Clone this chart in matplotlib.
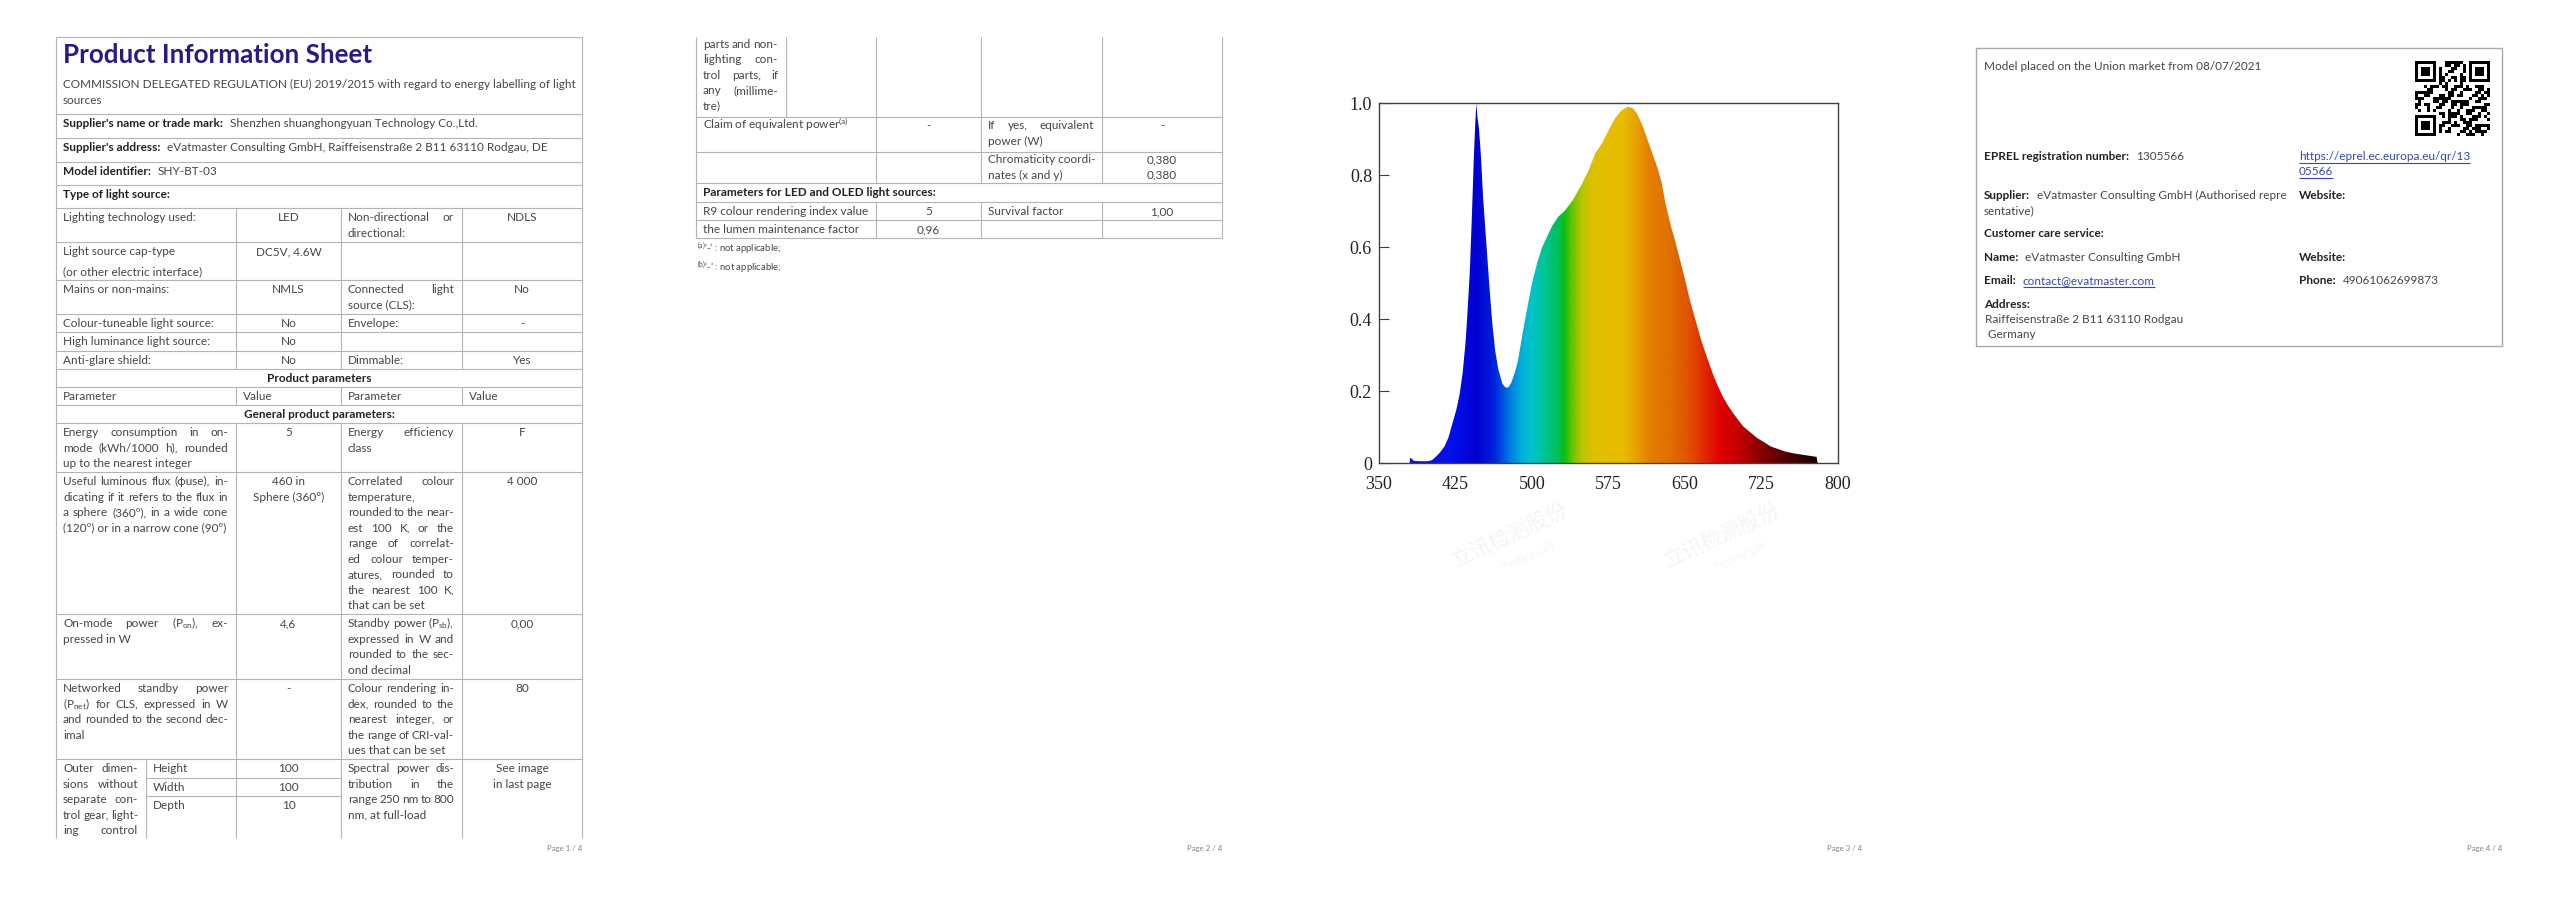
import matplotlib
matplotlib.use("Agg")
import matplotlib.pyplot as plt
import numpy as np
from matplotlib.font_manager import FontProperties
from matplotlib.colors import LinearSegmentedColormap, Normalize

# ---- spectrum (relative spectral power vs wavelength, nm) ----
wl = [380, 380.5, 382, 384, 390, 398, 402, 406, 410, 414, 418, 422, 426, 429, 432,
      435, 437, 439, 441, 443, 444.5, 445.5, 446.5, 448, 450, 452, 455, 458, 461,
      464, 467, 471, 474, 477, 480, 483, 486, 489, 492, 496, 500, 505, 510, 515,
      520, 526, 532, 540, 548, 555, 562, 569, 576, 582, 588, 594, 599, 603, 608,
      613, 618, 623, 627, 631, 636, 640, 645, 650, 655, 660, 666, 672, 677, 682,
      687, 692, 697, 702, 707, 714, 721, 728, 734, 741, 748, 756, 765, 772, 779, 780]
rel = [0.0, 0.015, 0.012, 0.006, 0.005, 0.005, 0.008, 0.018, 0.03, 0.045, 0.07, 0.11,
       0.15, 0.19, 0.25, 0.34, 0.43, 0.53, 0.68, 0.85, 0.95, 1.0, 0.96, 0.93, 0.85,
       0.74, 0.62, 0.50, 0.39, 0.31, 0.26, 0.22, 0.21, 0.21, 0.225, 0.25, 0.28, 0.33,
       0.38, 0.44, 0.50, 0.555, 0.60, 0.63, 0.66, 0.685, 0.70, 0.73, 0.77, 0.81, 0.86,
       0.89, 0.93, 0.96, 0.98, 0.99, 0.985, 0.97, 0.94, 0.90, 0.86, 0.82, 0.78, 0.72,
       0.66, 0.62, 0.565, 0.51, 0.45, 0.40, 0.34, 0.29, 0.25, 0.215, 0.185, 0.16,
       0.139, 0.12, 0.102, 0.085, 0.069, 0.057, 0.046, 0.039, 0.032, 0.027, 0.023,
       0.02, 0.017, 0.0]
x_ticks = [350, 425, 500, 575, 650, 725, 800]
y_ticks = [0, 0.2, 0.4, 0.6, 0.8, 1.0]
y_labels = ["0", "0.2", "0.4", "0.6", "0.8", "1.0"]

# colour of the light at each wavelength
rainbow = [(350, "#000080"), (380, "#1a10c0"), (420, "#0010ee"), (445, "#0000d0"),
           (462, "#0020dc"), (472, "#0058e0"), (482, "#0090e0"), (492, "#00b6d8"),
           (500, "#00c4c8"), (510, "#00c49c"), (520, "#00c270"), (528, "#00c040"),
           (532, "#10c010"), (540, "#70c400"), (550, "#c0c400"), (560, "#e0c000"),
           (590, "#e8bb00"), (603, "#e8a000"), (615, "#e48000"), (635, "#e07000"),
           (655, "#e05000"), (670, "#e02800"), (685, "#e00000"), (705, "#c00000"),
           (725, "#880000"), (750, "#500000"), (775, "#200000"), (800, "#100000")]

W, H = 2560, 905
FAM = ["Lato", "DejaVu Sans"]
plt.rcParams["font.family"] = FAM
plt.rcParams["mathtext.fontset"] = "custom"
plt.rcParams["mathtext.rm"] = "Lato"
plt.rcParams["mathtext.bf"] = "Lato:bold"
plt.rcParams["mathtext.it"] = "Lato:italic"

TXT = "#454545"
LAB = "#222222"
GRID = "#b4b4b4"
LINK = "#3548b0"
LS = 15.5

fig = plt.figure(figsize=(W / 100, H / 100), dpi=100)
fig.patch.set_facecolor("white")
ax = fig.add_axes([0, 0, 1, 1])
ax.set_xlim(0, W)
ax.set_ylim(H, 0)
ax.axis("off")
R = fig.canvas.get_renderer()


def width(s, size, bold=False):
    fp = FontProperties(family=FAM, size=size, weight="bold" if bold else "normal")
    return R.get_text_width_height_descent(s, fp, ismath=("$" in s))[0]


BS = 10 * 151 / width("Colour-tuneable light source:", 10)
TS = 20 * 308 / width("Product Information Sheet", 20, True)
FS = 10 * 35 / width("Page 1 / 4", 10)


def put(x, y, s, bold=False, size=None, color=None, ha="left"):
    size = size or BS
    if color is None:
        color = LAB if bold else TXT
    ax.text(x, y + 0.36 * size * 100 / 72, s, fontsize=size, color=color, ha=ha,
            va="baseline", fontweight="bold" if bold else "normal")


def jline(x0, x1, y, s, bold=False):
    words = s.split(" ")
    if len(words) == 1:
        put(x0, y, s, bold)
        return
    ws = [width(w, BS, bold) for w in words]
    gap = (x1 - x0 - sum(ws)) / (len(words) - 1)
    x = x0
    for w, wv in zip(words, ws):
        put(x, y, w, bold)
        x += wv + gap


def cell(x0, x1, y, lines, mode="j"):
    for i, ln in enumerate(lines):
        yy = y + i * LS
        if mode == "c":
            put((x0 + x1) / 2, yy, ln, ha="center")
        elif (mode == "j" and i < len(lines) - 1) or mode == "J":
            jline(x0 + 7, x1 - 8, yy, ln)
        else:
            put(x0 + 7, yy, ln)


def hl(y, x0, x1, c=GRID):
    ax.plot([x0, x1], [y, y], color=c, lw=0.8, solid_capstyle="butt")


def vl(x, y0, y1, c=GRID):
    ax.plot([x, x], [y0, y1], color=c, lw=0.8, solid_capstyle="butt")


def labval(x, y, lab, val, link=False):
    put(x, y, lab, bold=True)
    xv = x + width(lab, BS, True) + 7
    if link:
        put(xv, y, val, color=LINK)
        hl(y + 7, xv, xv + width(val, BS), c=LINK)
    else:
        put(xv, y, val)


# ================= page 1 =================
L, C1, C2, C3, RT = 56, 236, 341, 462, 582
SUB = 146
rows1 = [37, 114, 138, 162, 185, 208, 242, 280, 314, 332, 351, 369, 387, 405,
         423, 472, 614, 679, 759, 838]
for r in rows1[:-1]:
    hl(r, L, RT)
vl(L, 37, 838)
vl(RT, 37, 838)
for c in (C1, C2, C3):
    vl(c, 208, 369)
    vl(c, 387, 405)
    vl(c, 423, 838)
vl(SUB, 759, 838)
hl(778, SUB, C2)
hl(796, SUB, C2)

put(63, 54, "Product Information Sheet", bold=True, size=TS, color="#2b1a86")
put(63, 84, "COMMISSION DELEGATED REGULATION (EU) 2019/2015 with regard to energy labelling of light")
put(63, 99.7, "sources")
labval(63, 123, "Supplier's name or trade mark:", "Shenzhen shuanghongyuan Technology Co.,Ltd.")
labval(63, 147, "Supplier's address:", "eVatmaster Consulting GmbH, Raiffeisenstraße 2 B11 63110 Rodgau, DE")
labval(63, 171, "Model identifier:", "SHY-BT-03")
put(63, 194, "Type of light source:", bold=True)

grid_rows = [
    (208, ["Lighting technology used:"], ["LED"], ["Non-directional or", "directional:"], ["NDLS"]),
    (242, [], ["DC5V, 4.6W"], [], []),
    (280, ["Mains or non-mains:"], ["NMLS"], ["Connected light", "source (CLS):"], ["No"]),
    (314, ["Colour-tuneable light source:"], ["No"], ["Envelope:"], ["-"]),
    (332, ["High luminance light source:"], ["No"], [], []),
    (351, ["Anti-glare shield:"], ["No"], ["Dimmable:"], ["Yes"]),
    (423, ["Energy consumption in on-", "mode (kWh/1000 h), rounded", "up to the nearest integer"],
     ["5"], ["Energy efficiency", "class"], ["F"]),
    (472, ["Useful luminous flux (ϕuse), in-", "dicating if it refers to the flux in",
           "a sphere (360º), in a wide cone", "(120º) or in a narrow cone (90º)"],
     ["460 in", "Sphere (360°)"],
     ["Correlated colour", "temperature,", "rounded to the near-", "est 100 K, or the",
      "range of correlat-", "ed colour temper-", "atures, rounded to", "the nearest 100 K,",
      "that can be set"], ["4 000"]),
    (614, ["On-mode power (P$_{\\mathrm{on}}$), ex-", "pressed in W"], ["4,6"],
     ["Standby power (P$_{\\mathrm{sb}}$),", "expressed in W and", "rounded to the sec-",
      "ond decimal"], ["0,00"]),
    (679, ["Networked standby power", "(P$_{\\mathrm{net}}$) for CLS, expressed in W",
           "and rounded to the second dec-", "imal"], ["-"],
     ["Colour rendering in-", "dex, rounded to the", "nearest integer, or",
      "the range of CRI-val-", "ues that can be set"], ["80"]),
]
for top, a, b, c, d in grid_rows:
    y = top + 9
    cell(L, C1, y, a)
    cell(C1, C2, y, b, "c")
    cell(C2, C3, y, c)
    cell(C3, RT, y, d, "c")
put(63, 251, "Light source cap-type")
put(63, 270.7, "(or other electric interface)")
put((L + RT) / 2, 378, "Product parameters", bold=True, ha="center")
for x, s in ((63, "Parameter"), (242.5, "Value"), (347.5, "Parameter"), (468.5, "Value")):
    put(x, 396, s)
put((L + RT) / 2, 414, "General product parameters:", bold=True, ha="center")

cell(L, SUB, 768, ["Outer dimen-", "sions without", "separate con-", "trol gear, light-", "ing control"], "J")
for y, lab, val in ((768, "Height", "100"), (787, "Width", "100"), (805, "Depth", "10")):
    put(SUB + 7, y, lab)
    put((C1 + C2) / 2, y, val, ha="center")
cell(C2, C3, 768, ["Spectral power dis-", "tribution in the", "range 250 nm to 800", "nm, at full-load"])
cell(C3, RT, 768, ["See image", "in last page"], "c")

# ================= page 2 =================
o = 640
L2, S2, A2, B2, D2, R2 = L + o, SUB + o, C1 + o, C2 + o, C3 + o, RT + o
for r in (117, 152, 183, 202, 220, 238):
    hl(r, L2, R2)
vl(L2, 37, 238)
vl(R2, 37, 238)
vl(S2, 37, 117)
for c in (A2, B2, D2):
    vl(c, 37, 183)
    vl(c, 202, 238)
cell(L2, S2, 43.5, ["parts and non-", "lighting con-", "trol parts, if", "any (millime-", "tre)"])
cell(L2, A2, 125, ["Claim of equivalent power$^{\\mathrm{(a)}}$"])
cell(A2, B2, 125, ["-"], "c")
cell(B2, D2, 125, ["If yes, equivalent", "power (W)"])
cell(D2, R2, 125, ["-"], "c")
cell(B2, D2, 159, ["Chromaticity coordi-", "nates (x and y)"], "l")
cell(D2, R2, 159, ["0,380", "0,380"], "c")
put(L2 + 7, 192, "Parameters for LED and OLED light sources:", bold=True)
cell(L2, A2, 211, ["R9 colour rendering index value"])
cell(A2, B2, 211, ["5"], "c")
cell(B2, D2, 211, ["Survival factor"])
cell(D2, R2, 211, ["1,00"], "c")
cell(L2, A2, 229, ["the lumen maintenance factor"])
cell(A2, B2, 229, ["0,96"], "c")
put(L2 + 1, 248, "$^{\\mathrm{(a)}}$‘-’ : not applicable;", size=BS * 0.8)
put(L2 + 1, 267, "$^{\\mathrm{(b)}}$‘-’ : not applicable;", size=BS * 0.8)

# ================= page 3 : spectrum =================
for cx in (1510, 1722):
    ax.text(cx, 535, "立讯检测股份", family=["Noto Sans CJK SC", "DejaVu Sans"], fontsize=15,
            color="#f2f5f8", rotation=25, ha="center", va="center")
    ax.text(cx + 18, 556, "Testing Lab", fontsize=8, color="#f3f6f9", rotation=25,
            ha="center", va="center")

cl, cr, ct, cb = 1379, 1838, 103, 463
sx = fig.add_axes([cl / W, 1 - cb / H, (cr - cl) / W, (cb - ct) / H])
cmap = LinearSegmentedColormap.from_list(
    "spec", [((w - 350) / 450, c) for w, c in rainbow])
grad = np.linspace(350, 800, 900)[None, :]
im = sx.imshow(grad, extent=[350, 800, 0, 1], aspect="auto", cmap=cmap,
               norm=Normalize(350, 800), interpolation="bilinear")
poly = sx.fill_between(wl, rel, 0, color="none", lw=0)
im.set_clip_path(poly.get_paths()[0], transform=sx.transData)
sx.set_xlim(350, 800)
sx.set_ylim(0, 1.0)
sx.set_xticks(x_ticks)
sx.set_xticklabels([str(v) for v in x_ticks])
sx.set_yticks(y_ticks)
sx.set_yticklabels(y_labels)
for lab in sx.get_xticklabels() + sx.get_yticklabels():
    lab.set_family("Liberation Serif")
    lab.set_fontsize(13)
    lab.set_color("#222222")
sx.tick_params(axis="y", direction="in", length=7, width=0.8, color="#404040", pad=5)
sx.tick_params(axis="x", length=0, pad=9)
for sp in sx.spines.values():
    sp.set_color("#404040")
    sp.set_linewidth(1.0)

# ================= page 4 =================
o4 = 1920
ax.add_patch(plt.Rectangle((L + o4, 48), RT - L, 298, fill=False, ec="#a8a8a8", lw=1.0))
px = L + o4 + 8
rx = 2299
put(px, 66, "Model placed on the Union market from 08/07/2021")

qr_url = "https://eprel.ec.europa.eu/qr/1305566"
n = 25
bits = "".join(format(b, "08b") for b in qr_url.encode())
qr = np.array([int(bits[(i * 11) % len(bits)]) for i in range(n * n)], float).reshape(n, n)
for (r0, c0) in ((0, 0), (0, n - 7), (n - 7, 0)):
    rs, cs = max(r0 - 1, 0), max(c0 - 1, 0)
    qr[rs:r0 + 8, cs:c0 + 8] = 0
    qr[r0:r0 + 7, c0:c0 + 7] = 1
    qr[r0 + 1:r0 + 6, c0 + 1:c0 + 6] = 0
    qr[r0 + 2:r0 + 5, c0 + 2:c0 + 5] = 1
ax.imshow(qr, cmap="gray_r", extent=[2415, 2490, 136, 61], interpolation="nearest",
          aspect="auto", vmin=0, vmax=1)
ax.set_xlim(0, W)
ax.set_ylim(H, 0)

labval(px, 156, "EPREL registration number:", "1305566")
for y, s in ((156, "https://eprel.ec.europa.eu/qr/13"), (171, "05566")):
    put(rx, y, s, color=LINK)
    hl(y + 7, rx, rx + width(s, BS), c=LINK)
labval(px, 194.5, "Supplier:", "eVatmaster Consulting GmbH (Authorised repre")
put(px, 210, "sentative)")
put(rx, 194.5, "Website:", bold=True)
put(px, 233, "Customer care service:", bold=True)
labval(px, 257, "Name:", "eVatmaster Consulting GmbH")
put(rx, 257, "Website:", bold=True)
labval(px, 280, "Email:", "contact@evatmaster.com", link=True)
labval(rx, 280, "Phone:", "49061062699873")
put(px, 303.5, "Address:", bold=True)
put(px + 1, 318.5, "Raiffeisenstraße 2 B11 63110 Rodgau")
put(px + 1, 334, " Germany")

# page footers
for k in range(4):
    put(RT + 640 * k, 848, "Page %d / 4" % (k + 1), size=FS, color="#808080", ha="right")

fig.savefig("out.png", dpi=100, facecolor="white")
